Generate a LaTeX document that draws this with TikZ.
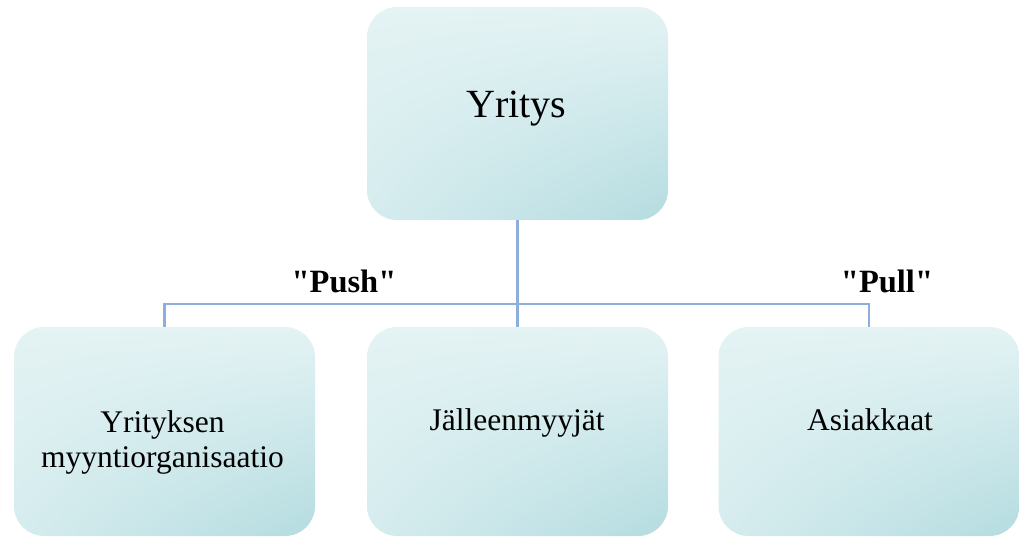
\documentclass[tikz,border=0pt]{standalone}
\usepackage{fontspec}
\setmainfont{Liberation Serif}
\newfontfamily\plainserif{Liberation Serif}
\usetikzlibrary{shadings}
\definecolor{boxlight}{RGB}{228,243,244}
\definecolor{boxmid}{RGB}{214,236,238}
\definecolor{boxdark}{RGB}{180,220,224}
\definecolor{connblue}{RGB}{142,174,220}
\begin{document}
\begin{tikzpicture}[x=1pt,y=-1pt,
  boxnode/.style={rectangle, rounded corners=30pt, inner sep=0pt,
    minimum width=301pt, upper left=boxlight, upper right=boxlight,
    lower left=boxmid, lower right=boxdark},
  topbox/.style={boxnode, minimum height=213pt},
  botbox/.style={boxnode, minimum height=209pt},
  bigtext/.style={anchor=base, font=\fontsize{40}{45}\selectfont, inner sep=0pt},
  smalltext/.style={anchor=base, font=\fontsize{31.5}{36}\selectfont, inner sep=0pt, align=center},
  conn/.style={draw=connblue, line width=2.6pt},
  labeltext/.style={anchor=base, font=\plainserif\fontsize{32.5}{37}\selectfont\bfseries, inner sep=0pt}]
\useasboundingbox (0,0) rectangle (1019,537);
\node[topbox] (top) at (517.5,113.5) {};
\node[botbox] (left) at (164.5,431.5) {};
\node[botbox] (mid) at (517.5,431.5) {};
\node[botbox] (right) at (869,431.5) {};
\coordinate (j) at (517.5,304);
\draw[conn] (top.south) -- (mid.north);
\draw[conn] (left.north) -- (left.north |- j) -- (right.north |- j) -- (right.north);
\node[bigtext] (t0) at (516.5,118) {Yritys};
\node[smalltext] (t1) at (162.5,432) {Yrityksen};
\node[smalltext] (t1b) at (162.5,467) {myyntiorganisaatio};
\node[smalltext] (t2) at (517,430) {Jälleenmyyjät};
\node[smalltext] (t3) at (870,430) {Asiakkaat};
\node[labeltext] (push) at (344,292) {"Push"};
\node[labeltext] (pull) at (887,292) {"Pull"};
\end{tikzpicture}
\end{document}
